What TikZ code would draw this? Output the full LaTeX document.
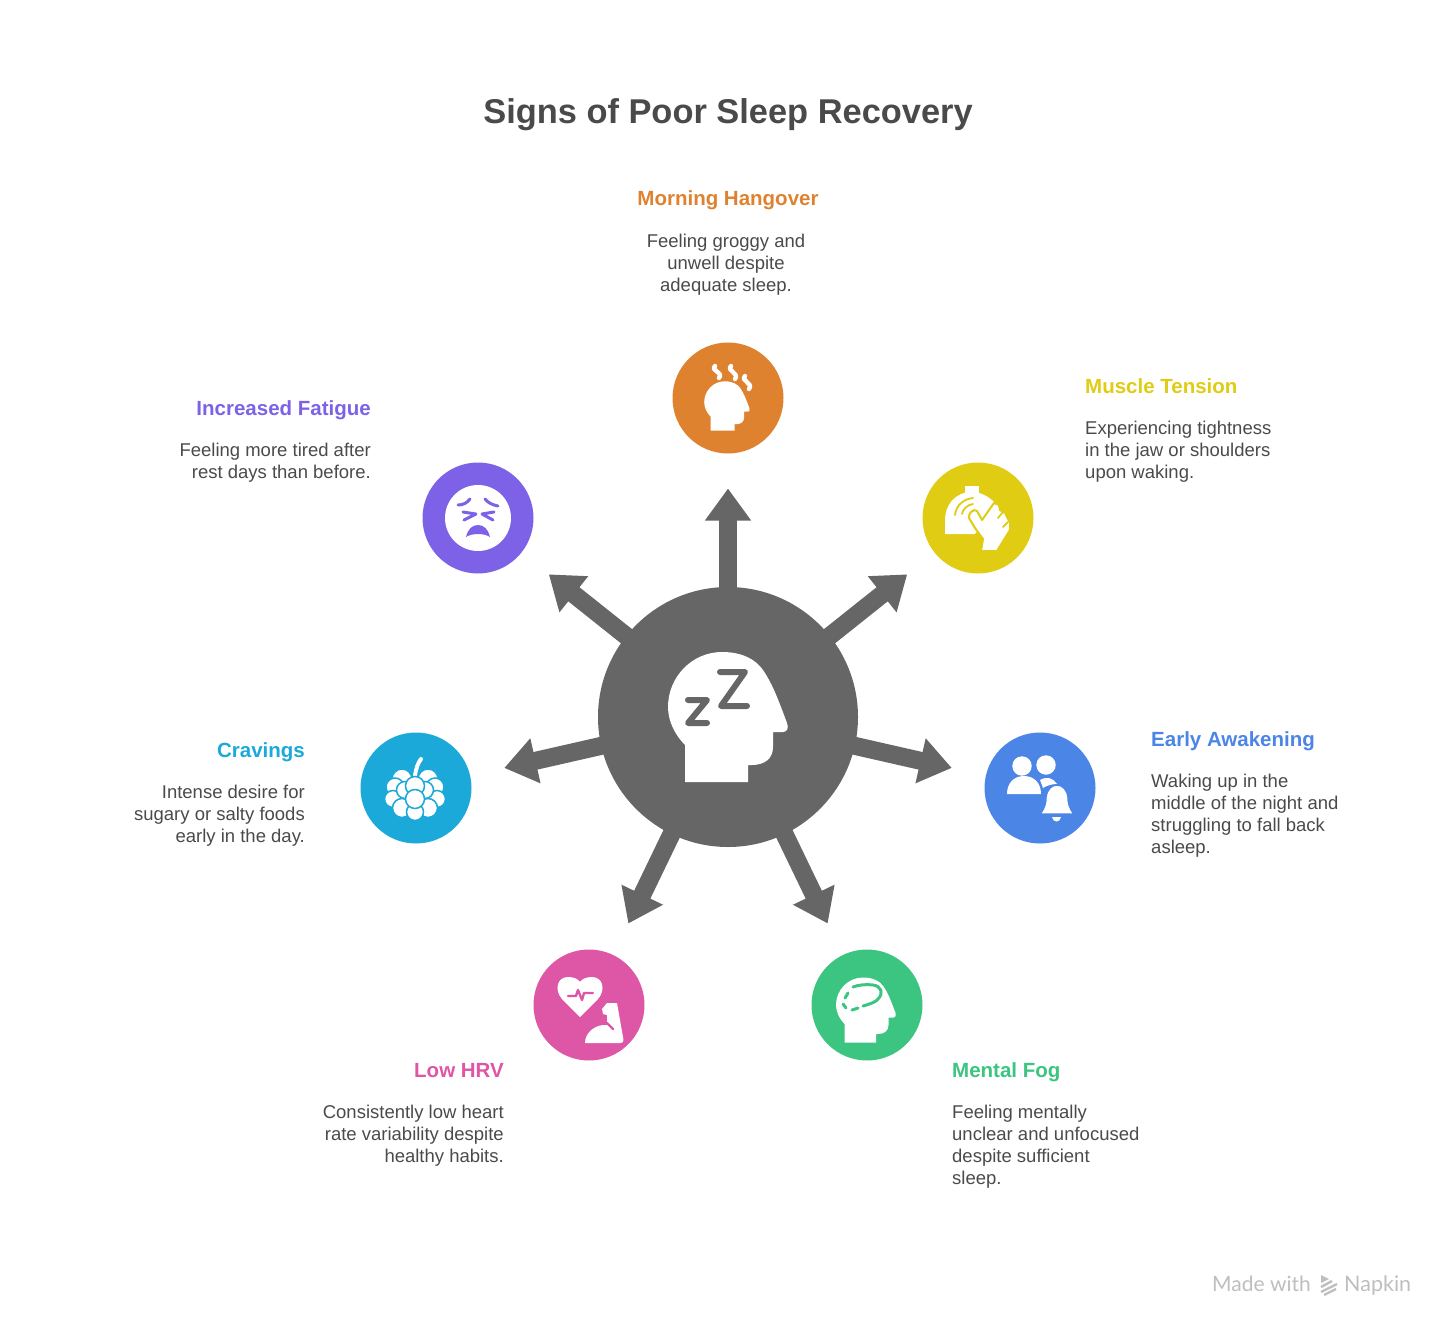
\documentclass[tikz,border=0pt]{standalone}
\usepackage{fontspec}
\setmainfont{Liberation Sans}
\newfontfamily\markfont{Lato}
\definecolor{hubgray}{RGB}{102, 102, 102}
\definecolor{inkgray}{RGB}{74, 74, 74}
\definecolor{markgray}{RGB}{190, 190, 190}
\definecolor{hangorange}{RGB}{223, 130, 48}
\definecolor{tenseyellow}{RGB}{224, 204, 19}
\definecolor{wakeblue}{RGB}{75, 133, 230}
\definecolor{foggreen}{RGB}{59, 197, 129}
\definecolor{hrvpink}{RGB}{222, 86, 166}
\definecolor{cravecyan}{RGB}{27, 169, 217}
\definecolor{fatiguepurple}{RGB}{125, 98, 232}
\usetikzlibrary{arrows.meta, positioning}

\begin{document}
\begin{tikzpicture}[
    x=1pt, y=-1pt,
    arr/.style={-{Triangle[length=32pt, width=44pt]}, line width=18pt, hubgray,
                shorten <=-4pt, shorten >=35pt},
    disc/.style={circle, minimum size=111pt, inner sep=0pt, outer sep=0pt},
    maintitle/.style={font=\fontsize{34.4}{40}\selectfont\bfseries, text=inkgray, inner sep=0pt},
    heading/.style={font=\fontsize{20.5}{24}\selectfont\bfseries, inner sep=0pt},
    body/.style={font=\fontsize{18.5}{22}\selectfont, text=inkgray, inner sep=0pt},
    glyph/.style={line width=3pt, line cap=round, line join=round},
    berry/.style={fill=white, draw=cravecyan, line width=1.5pt},
    headicon/.pic={
      \fill[white] (-43,65) -- (-43,28) .. controls (-53,18) and (-60,4) .. (-60,-10)
        .. controls (-60,-40) and (-36,-65) .. (-6,-65)
        .. controls (15,-65) and (28,-57) .. (35,-47)
        .. controls (45,-32) and (50,-18) .. (59,6)
        .. controls (61,11) and (59,15) .. (55,15) -- (45,15) -- (45,30)
        .. controls (45,42) and (36,48) .. (24,48) -- (20,48) -- (20,65) -- cycle;
    }
  ]
    \useasboundingbox (0,0) rectangle (1456,1335);

    \node[maintitle, anchor=base] (title) at (728,123.5) {Signs of Poor Sleep Recovery};

    % hub and discs
    \node[disc, fill=hubgray, minimum size=260pt] (hub) at (728,717) {};
    \node[disc, fill=hangorange] (hangover) at (728,398) {};
    \node[disc, fill=tenseyellow] (tension) at (978,518) {};
    \node[disc, fill=wakeblue] (awakening) at (1040,788) {};
    \node[disc, fill=foggreen] (fog) at (867,1005) {};
    \node[disc, fill=hrvpink] (hrv) at (589,1005) {};
    \node[disc, fill=cravecyan] (cravings) at (416,788) {};
    \node[disc, fill=fatiguepurple] (fatigue) at (478,518) {};

    \draw[arr] (hub) -- (hangover);
    \draw[arr] (hub) -- (tension);
    \draw[arr] (hub) -- (awakening);
    \draw[arr] (hub) -- (fog);
    \draw[arr] (hub) -- (hrv);
    \draw[arr] (hub) -- (cravings);
    \draw[arr] (hub) -- (fatigue);

    % labels
    \node[heading, text=hangorange, anchor=base] (hangoverhead) at (728,205.5) {Morning Hangover};
    \node[body, align=center, anchor=north] (hangovertext) at (726,234)
      {Feeling groggy and\\unwell despite\\adequate sleep.};
    \node[heading, text=tenseyellow, anchor=base west] (tensionhead) at (1085,393.5) {Muscle Tension};
    \node[body, align=left, anchor=north west] (tensiontext) at (1085,421)
      {Experiencing tightness\\in the jaw or shoulders\\upon waking.};
    \node[heading, text=wakeblue, anchor=base west] (awakeninghead) at (1151,746.5) {Early Awakening};
    \node[body, align=left, anchor=north west] (awakeningtext) at (1151,774)
      {Waking up in the\\middle of the night and\\struggling to fall back\\asleep.};
    \node[heading, text=foggreen, anchor=base west] (foghead) at (952,1077.5) {Mental Fog};
    \node[body, align=left, anchor=north west] (fogtext) at (952,1105)
      {Feeling mentally\\unclear and unfocused\\despite sufficient\\sleep.};
    \node[heading, text=hrvpink, anchor=base east] (hrvhead) at (504,1077.5) {Low HRV};
    \node[body, align=right, anchor=north east] (hrvtext) at (504,1105)
      {Consistently low heart\\rate variability despite\\healthy habits.};
    \node[heading, text=cravecyan, anchor=base east] (cravingshead) at (305,757.5) {Cravings};
    \node[body, align=right, anchor=north east] (cravingstext) at (305,785)
      {Intense desire for\\sugary or salty foods\\early in the day.};
    \node[heading, text=fatiguepurple, anchor=base east] (fatiguehead) at (371,415.5) {Increased Fatigue};
    \node[body, align=right, anchor=north east] (fatiguetext) at (371,443)
      {Feeling more tired after\\rest days than before.};

    % hub icon
    \pic at (728,717) {headicon};
    \draw[hubgray, line width=6pt, line cap=round, line join=round]
      (720,672) -- (745,672) -- (721,706) -- (747,706);
    \draw[hubgray, line width=6pt, line cap=round, line join=round]
      (688,700) -- (707,700) -- (688,723) -- (707,723);

    % hangover icon
    \pic[scale=0.38] at (727,406) {headicon};
    \draw[white, glyph, line width=4.4pt]
      (715,366) .. controls (710,371) and (724,372) .. (719,378);
    \draw[white, glyph, line width=4.4pt]
      (731,366) .. controls (726,371) and (740,373) .. (735,379);
    \draw[white, glyph, line width=4.4pt]
      (745,376) .. controls (740,381) and (754,383) .. (749,389);

    % tension icon
    \fill[white] (965,486) rectangle (979,493);
    \fill[white] (945,534) -- (945,520) .. controls (945,505) and (955,492) .. (972,492)
      .. controls (980,492) and (988,496) .. (994,502) -- (985,520) -- (975,534) -- cycle;
    \draw[tenseyellow, glyph, line width=1.8pt]
      (955,515) .. controls (956,505) and (964,499) .. (973,498);
    \draw[tenseyellow, glyph, line width=1.8pt]
      (962,514) .. controls (963,509) and (967,505) .. (973,504);
    \draw[fill=white, draw=tenseyellow, line width=2pt, line join=round]
      (981,551) -- (983,539) -- (975,528) -- (969,518) .. controls (968,513) and (974,508) .. (977,511)
      -- (982,520) -- (994,503) -- (999,505) -- (1000,510) -- (1005,513) -- (1010,523)
      -- (1010,530) -- (997,551) -- cycle;
    \draw[tenseyellow, glyph, line width=1.8pt] (1003,512) -- (998,518);
    \draw[tenseyellow, glyph, line width=1.8pt] (1008,522) -- (1003,527);

    % awakening icon
    \fill[white] (1022,766) circle[radius=9.7];
    \fill[white] (1046,765) circle[radius=9.7];
    \fill[white] (1007,794) .. controls (1007,783) and (1014,776) .. (1024,776)
      .. controls (1034,776) and (1041,783) .. (1041,794) -- cycle;
    \fill[white] (1040,780) .. controls (1047,776) and (1053,778) .. (1057,784)
      .. controls (1051,784) and (1046,786) .. (1043,788) -- cycle;
    \draw[fill=white, draw=wakeblue, line width=1.5pt, line join=round]
      (1040,814) .. controls (1045,808) and (1046,802) .. (1046,797)
      .. controls (1047,789) and (1052,785) .. (1057,785)
      .. controls (1062,785) and (1067,789) .. (1068,797)
      .. controls (1068,802) and (1069,808) .. (1074,814) -- cycle;
    \fill[white] (1052,817) .. controls (1053,823) and (1060,823) .. (1061,817) -- cycle;

    % fog icon
    \pic[scale=0.5] at (866,1010) {headicon};
    \draw[foggreen, glyph] (863,1006) .. controls (870,1004) and (876,1002) .. (878,999)
      .. controls (884,993) and (881,986) .. (873,985) .. controls (866,984) and (858,985) .. (853,987);
    \draw[foggreen, glyph] (848,993) -- (845,998);
    \draw[foggreen, glyph] (843,1004) -- (846,1008);
    \draw[foggreen, glyph] (852,1010) -- (858,1008);

    % hrv icon
    \fill[white] (580,1017) -- (562,999) .. controls (554,990) and (557,977) .. (568,977)
      .. controls (574,977) and (578,979) .. (580,982)
      .. controls (582,979) and (586,977) .. (592,977)
      .. controls (603,977) and (606,990) .. (598,999) -- cycle;
    \draw[hrvpink, glyph, line width=2.4pt] (568,996) -- (576,996) -- (578,990) -- (582,1000)
      -- (584,993) -- (593,993);
    \fill[white] (602,1009) -- (607,1003) -- (617,1003) -- (623,1037)
      .. controls (624,1041) and (623,1043) .. (620,1043) -- (585,1043)
      .. controls (585,1032) and (596,1024) .. (607,1025) -- (607,1015) -- (603,1014) -- cycle;
    \draw[hrvpink, glyph, line width=2.4pt] (607,1023) -- (613,1029);

    % cravings icon
    \draw[white, line width=4pt, line cap=round] (415,776) .. controls (416,768) and (418,763) .. (421,759);
    \draw[berry] (402,779) circle[radius=10];
    \draw[berry] (428,779) circle[radius=10];
    \draw[berry] (395,787) circle[radius=9];
    \draw[berry] (435,787) circle[radius=9];
    \draw[berry] (393,799) circle[radius=8.5];
    \draw[berry] (437,799) circle[radius=8.5];
    \draw[berry] (402,808) circle[radius=9.5];
    \draw[berry] (428,808) circle[radius=9.5];
    \draw[berry] (405,790) circle[radius=8.5];
    \draw[berry] (425,790) circle[radius=8.5];
    \draw[berry] (415,812) circle[radius=8.5];
    \draw[berry] (415,786) circle[radius=9.5];
    \draw[berry] (415,799) circle[radius=9.5];

    % fatigue icon
    \fill[white] (478,518) circle[radius=33];
    \draw[fatiguepurple, glyph] (458,505) .. controls (463,505) and (467,503) .. (470,499);
    \draw[fatiguepurple, glyph] (485,499) .. controls (488,503) and (493,505) .. (498,506);
    \draw[fatiguepurple, glyph] (463,512) -- (476,514) -- (464,520);
    \draw[fatiguepurple, glyph] (494,512) -- (482,514) -- (493,520);
    \fill[fatiguepurple] (466,537) .. controls (468,529) and (472,525) .. (478,525)
      .. controls (484,525) and (488,529) .. (490,537)
      .. controls (484,533) and (472,533) .. (466,537) -- cycle;

    % watermark
    \node[font=\fontsize{21}{24}\selectfont\markfont, text=markgray, anchor=base west, inner sep=0pt]
      (madewith) at (1212,1291) {Made with};
    \node[font=\fontsize{21.5}{24}\selectfont\markfont, text=markgray, anchor=base west, inner sep=0pt]
      (napkin) at (1344,1291) {Napkin};
    \fill[markgray] (1321,1275) -- (1329,1279) -- (1321,1283) -- cycle;
    \draw[markgray, line width=2.4pt] (1321,1287) -- (1332,1281);
    \draw[markgray, line width=2.4pt] (1321,1292) -- (1337,1284);
    \draw[markgray, line width=2.4pt] (1324,1295) -- (1336,1289);
  \end{tikzpicture}
\end{document}
